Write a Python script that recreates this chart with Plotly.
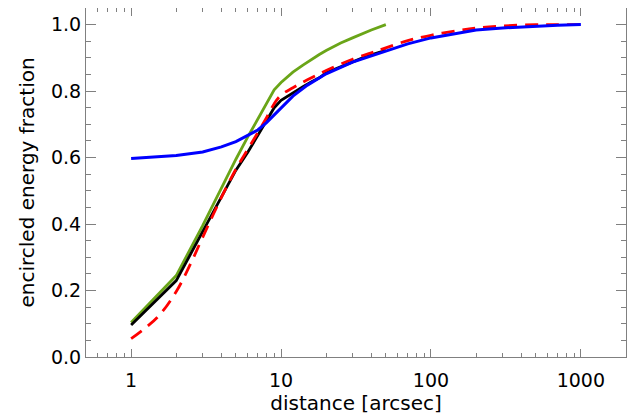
import numpy as np
import plotly.graph_objects as go

# ---- data ----
dist_green = [1, 2, 3, 4, 5, 6, 7, 8, 9, 10, 12, 14, 16, 18, 20, 25, 30, 35, 40, 50]
ee_green = [0.104, 0.245, 0.395, 0.51, 0.595, 0.662, 0.716, 0.763, 0.804, 0.826,
            0.857, 0.878, 0.896, 0.910, 0.922, 0.945, 0.960, 0.973, 0.984, 1.0]

dist_black = [1, 2, 3, 4, 5, 6, 7, 8, 9, 10, 12, 14, 16, 18, 20, 25, 30, 35, 40, 50]
ee_black = [0.096, 0.23, 0.377, 0.481, 0.562, 0.616, 0.667, 0.711, 0.75, 0.772,
            0.795, 0.813, 0.828, 0.840, 0.855, 0.873, 0.889, 0.900, 0.909, 0.923]

dist_red = [1, 1.5, 2, 2.5, 3, 4, 5, 6, 7, 8, 9, 10, 12, 15, 20, 30, 40, 50, 70,
            100, 150, 200, 300, 500, 700, 1000]
ee_red = [0.055, 0.12, 0.197, 0.282, 0.36, 0.48, 0.565, 0.625, 0.675, 0.72, 0.762,
          0.788, 0.81, 0.834, 0.862, 0.896, 0.915, 0.93, 0.952, 0.968, 0.982, 0.99,
          0.996, 1.0, 1.0, 1.0]

dist_blue = [1, 2, 3, 4, 5, 6, 7, 8, 9, 10, 12, 15, 20, 30, 40, 50, 70, 100, 150,
             200, 300, 400, 500, 700, 1000]
ee_blue = [0.597, 0.606, 0.617, 0.632, 0.648, 0.666, 0.683, 0.705, 0.728, 0.75,
           0.785, 0.818, 0.852, 0.887, 0.905, 0.92, 0.942, 0.96, 0.975, 0.984,
           0.99, 0.993, 0.995, 0.998, 1.0]

x_tickvals = [1, 10, 100, 1000]
x_ticktext = ["1", "10", "100", "1000"]
y_tickvals = [0.0, 0.2, 0.4, 0.6, 0.8, 1.0]
y_ticktext = ["0.0", "0.2", "0.4", "0.6", "0.8", "1.0"]
x_title = "distance [arcsec]"
y_title = "encircled energy fraction"

x_minor = [m * 10 ** e for e in range(-1, 4) for m in range(2, 10)]
x_minor = [v for v in x_minor if 0.5 <= v <= 2000]
y_minor = [round(0.05 * i, 2) for i in range(0, 22)]

AX = "#808080"
FONT = "DejaVu Sans, Liberation Sans, Arial, sans-serif"

fig = go.Figure()
fig.add_trace(go.Scatter(x=dist_green, y=ee_green, mode="lines",
                         line=dict(color="#6aa518", width=2.8)))
fig.add_trace(go.Scatter(x=dist_black, y=ee_black, mode="lines",
                         line=dict(color="black", width=2.8)))
fig.add_trace(go.Scatter(x=dist_red, y=ee_red, mode="lines",
                         line=dict(color="#ff0000", width=2.8, dash="13px,8px"),
                         line_shape="spline"))
fig.add_trace(go.Scatter(x=dist_blue, y=ee_blue, mode="lines",
                         line=dict(color="#0000ff", width=3)))

# the page body adds an 8px offset; figure sized to fit the window
fig.update_layout(
    width=633, height=409,
    margin=dict(l=78, r=15, t=0, b=60, autoexpand=False),
    paper_bgcolor="white", plot_bgcolor="white",
    showlegend=False,
    font=dict(family=FONT, color="black", size=19),
)
fig.update_xaxes(
    type="log", range=[np.log10(0.5), np.log10(2000)],
    showgrid=False, zeroline=False,
    showline=True, linecolor=AX, linewidth=1, mirror="allticks",
    ticks="inside", ticklen=8, tickcolor=AX, tickwidth=1,
    tickmode="array", tickvals=x_tickvals, ticktext=x_ticktext,
    tickfont=dict(size=19), ticklabelstandoff=6,
    minor=dict(ticks="inside", ticklen=4, tickcolor=AX, tickwidth=1,
               tickmode="array", tickvals=x_minor, showgrid=False),
    title=dict(text=x_title, font=dict(size=20), standoff=1),
    automargin=False,
)
fig.update_yaxes(
    range=[0, 1.05],
    showgrid=False, zeroline=False,
    showline=True, linecolor=AX, linewidth=1, mirror="allticks",
    ticks="inside", ticklen=10, tickcolor=AX, tickwidth=1,
    tickmode="array", tickvals=y_tickvals, ticktext=y_ticktext,
    tickfont=dict(size=19),
    minor=dict(ticks="inside", ticklen=5, tickcolor=AX, tickwidth=1,
               tickmode="array", tickvals=y_minor, showgrid=False),
    automargin=False,
)
fig.add_annotation(
    text=y_title, textangle=-90, showarrow=False,
    xref="paper", yref="paper", x=0, y=0.5,
    xanchor="center", yanchor="middle", xshift=-60,
    font=dict(size=20, color="black"),
)

fig.write_html("out.html")
